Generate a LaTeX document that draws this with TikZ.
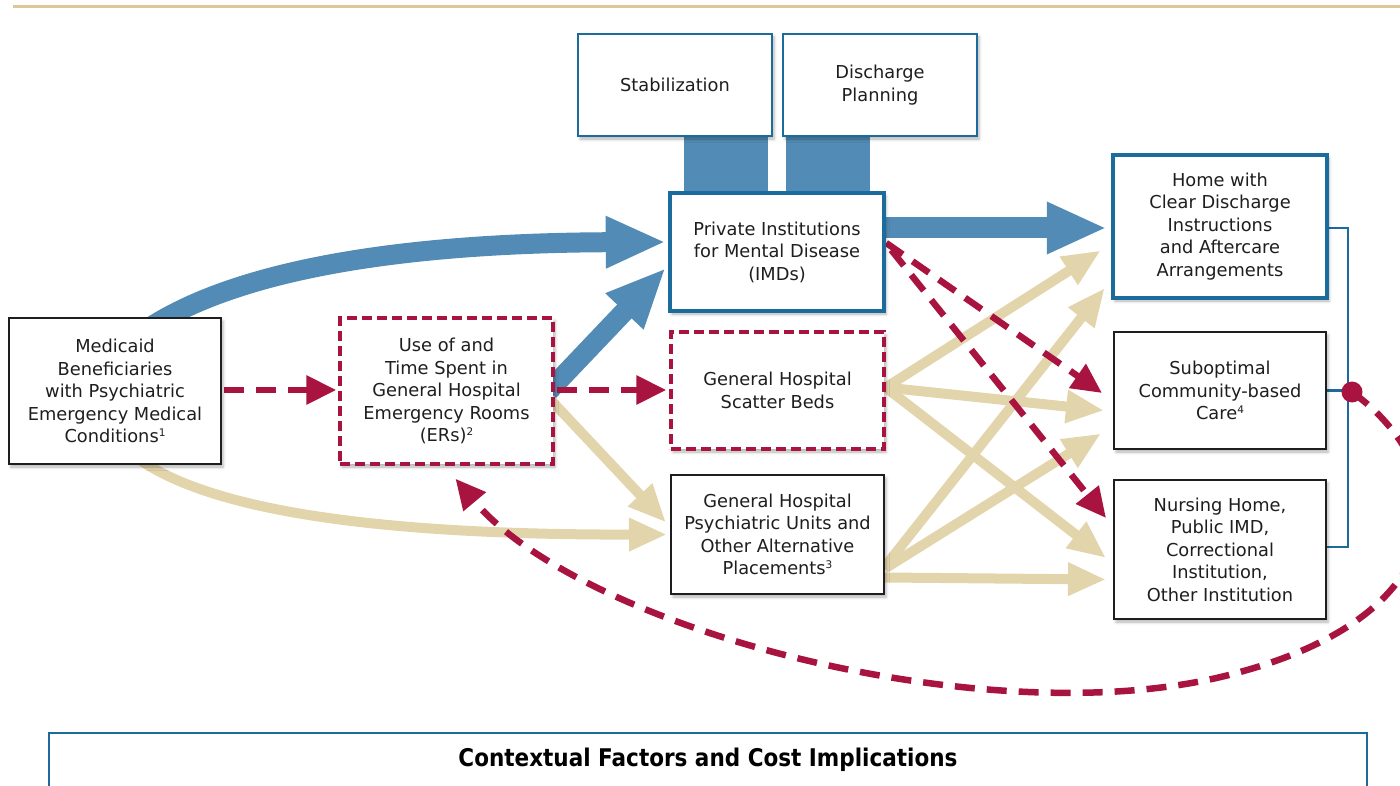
\documentclass[tikz,border=0pt]{standalone}
\usepackage{fontspec}
\setmainfont{DejaVu Sans}
\usetikzlibrary{arrows.meta,calc,shadows.blur}
\definecolor{blueA}{HTML}{528BB5}
\definecolor{blueB}{HTML}{1B6B9C}
\definecolor{tanA}{HTML}{E3D5AB}
\definecolor{redA}{HTML}{A8143F}
\definecolor{txt}{HTML}{1E1E1E}
\definecolor{topline}{HTML}{DCC896}
\pgfdeclarelayer{bg}
\pgfsetlayers{bg,main}
\newcommand{\sups}[1]{\raisebox{6.5pt}{\fontsize{10.5}{10.5}\selectfont #1}}
\begin{document}
\begin{tikzpicture}[x=1pt,y=-1pt,
  base/.style={fill=white, align=center, inner sep=0pt, text=txt,
    font=\fontsize{17.8}{22.5}\selectfont,
    blur shadow={shadow xshift=2pt, shadow yshift=-3pt, shadow blur radius=3pt, shadow opacity=30}},
  sz/.style 2 args={minimum width=#1pt, minimum height=#2pt},
  blackbox/.style={base, draw=txt, line width=2pt},
  redbox/.style={base, draw=redA, line width=3.5pt, dash pattern=on 10pt off 5pt},
  bluebox/.style={base, draw=blueB, line width=2.5pt},
  bluethick/.style={base, draw=blueB, line width=4.5pt},
  bluearrow/.style={draw=blueA, line width=20pt, -{Triangle[length=60pt,width=48pt]}},
  tanarrow/.style={draw=tanA, line width=10pt, -{Triangle[length=38pt,width=31pt]}},
  reddash/.style={draw=redA, line width=6.5pt, dash pattern=on 20pt off 12pt, -{Triangle[length=30pt,width=28pt]}},
  bracket/.style={draw=blueB, line width=2.5pt}
]
\useasboundingbox (0,0) rectangle (1400,786);
\draw[topline, line width=3pt] (13,7) -- (1400,7);

% nodes
\node[blackbox, sz={212}{146}] (med) at (115,391) {Medicaid\\Beneficiaries\\with Psychiatric\\Emergency Medical\\Conditions\sups{1}};
\node[redbox, sz={213}{146}] (er) at (446.5,391) {Use of and\\Time Spent in\\General Hospital\\Emergency Rooms\\(ERs)\sups{2}};
\node[bluebox, sz={194}{102}] (stab) at (675,85) {Stabilization};
\node[bluebox, sz={194}{102}] (dis) at (880,85) {Discharge\\Planning};
\node[bluethick, sz={214}{118}] (imd) at (777,252) {Private Institutions\\for Mental Disease\\(IMDs)};
\node[redbox, sz={213}{117}] (scat) at (777.5,390.5) {General Hospital\\Scatter Beds};
\node[blackbox, sz={213}{119}] (psy) at (777.5,534.5) {General Hospital\\Psychiatric Units and\\Other Alternative\\Placements\sups{3}};
\node[bluethick, sz={214}{143}] (home) at (1220,226.5) {Home with\\Clear Discharge\\Instructions\\and Aftercare\\Arrangements};
\node[blackbox, sz={212}{117}] (sub) at (1220,390.5) {Suboptimal\\Community-based\\Care\sups{4}};
\node[blackbox, sz={212}{139}] (nur) at (1220,549.5) {Nursing Home,\\Public IMD,\\Correctional\\Institution,\\Other Institution};
\node[draw=blueB, line width=2pt, fill=white, sz={1318}{54}, inner sep=0pt, text=black] (ctx) at (708,760)
  {\resizebox{499pt}{18.5pt}{\bfseries Contextual Factors and Cost Implications}};
\node[circle, fill=redA, minimum size=21pt, inner sep=0pt] (dot) at (1352,392) {};

\begin{pgfonlayer}{bg}
% tan arrows
\draw[tanarrow] ($(med.south)+(25,-5)$) .. controls (220,515) and (400,535) .. ($(psy.west)+(-3,0)$);
\draw[tanarrow] ($(er.east)+(-3,10)$) -- ($(psy.west)+(-4,-12)$);
\draw[tanarrow] ($(scat.east)+(0,-3)$) -- ($(home.west)+(-10,24)$);
\draw[tanarrow] ($(scat.east)+(0,-3)$) -- ($(sub.west)+(-9,20)$);
\draw[tanarrow] ($(scat.east)+(0,-3)$) -- ($(nur.west)+(-7,8.5)$);
\draw[tanarrow] ($(psy.east)+(0,32)$) -- ($(home.west)+(-6,61.5)$);
\draw[tanarrow] ($(psy.east)+(0,34)$) -- ($(sub.west)+(-12,43)$);
\draw[tanarrow] ($(psy.east)+(0,43)$) -- ($(nur.west)+(-7,30)$);
% blue bars and arrows
\fill[blueA] ($(stab.south)+(9,0)$) rectangle ($(stab.south)+(93,60)$);
\fill[blueA] ($(dis.south)+(-94,0)$) rectangle ($(dis.south)+(-10,60)$);
\draw[bluearrow] ($(med.north)+(25,17)$) .. controls (230,270) and (400,243) .. ($(imd.west)+(-2,-10)$);
\draw[bluearrow] ($(er.east)+(-6,0)$) -- ($(imd.west)+(-2,16)$);
\draw[bluearrow, line width=21pt] ($(imd.east)+(0,-24)$) -- ($(home.west)+(-4,1.5)$);
% bracket
\draw[bracket] ($(home.east)+(0,1.5)$) -| ($(nur.east)+(21,-2.5)$) -- ($(nur.east)+(0,-2.5)$);
\draw[bracket] (sub.east) -- ($(sub.east)+(21,0)$);
% red dashed
\draw[reddash] ($(med.east)+(2,-1)$) -- ($(er.west)+(-2,-1)$);
\draw[reddash] ($(er.east)+(2,-1)$) -- ($(scat.west)+(-3,-0.5)$);
\draw[reddash] ($(imd.east)+(0,-9)$) -- ($(sub.west)+(-11,2.5)$);
\draw[reddash] ($(imd.east)+(5,-2)$) -- ($(nur.west)+(-7,-31.5)$);
\draw[reddash] (dot.center) .. controls (1460,470) and (1460,612) .. (1240,672)
  .. controls (1000,740) and (583,631) .. ($(er.south)+(9,13)$);
\end{pgfonlayer}
\end{tikzpicture}
\end{document}
